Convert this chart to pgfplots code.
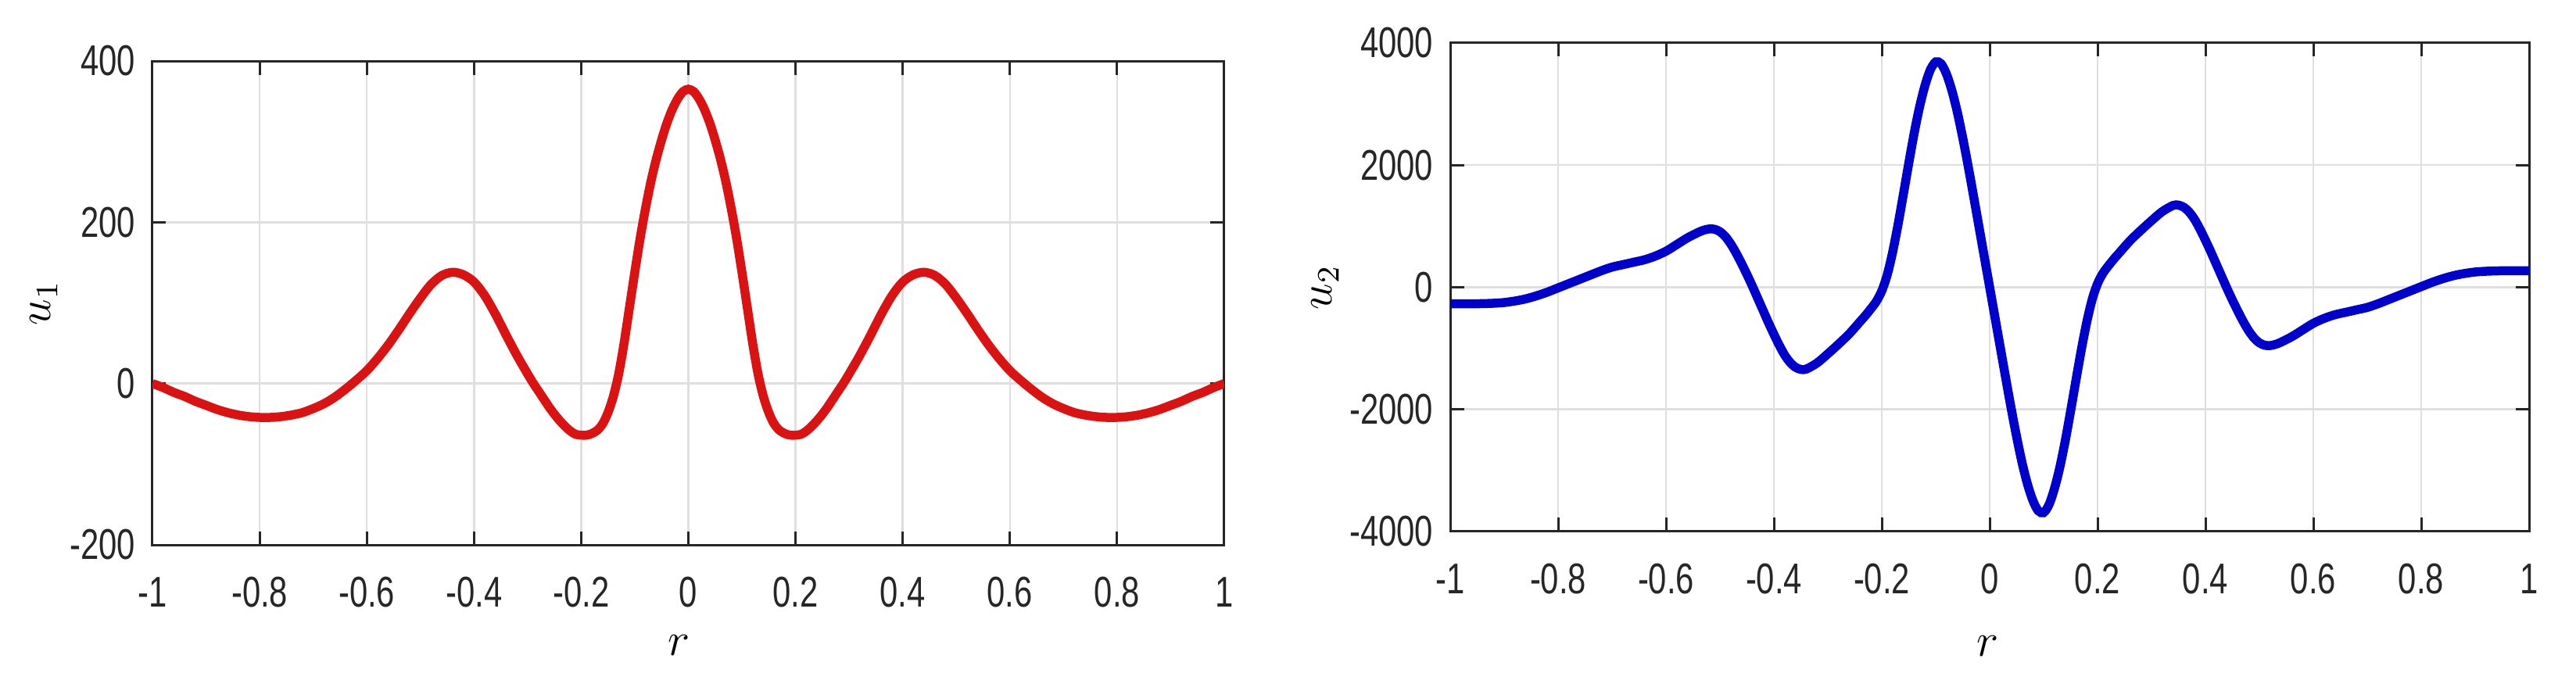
\documentclass[border=0pt]{standalone}
\usepackage{fontspec}
\setmainfont{Liberation Sans}
\usepackage{graphicx}
\usepackage{pgfplots}
\pgfplotsset{compat=1.18}
\definecolor{axc}{RGB}{38,38,38}
\definecolor{gridc}{RGB}{223,223,223}
\definecolor{cred}{RGB}{218,18,18}
\definecolor{cblue}{RGB}{0,0,205}
\newcommand\tl[1]{\scalebox{0.76}[1]{#1}}

\pgfplotstableread{
x y
-1.0 0
-0.98 -5
-0.96 -11
-0.94 -16
-0.92 -22
-0.90 -27
-0.88 -32
-0.86 -36
-0.84 -39
-0.82 -41
-0.80 -42
-0.78 -42
-0.76 -41
-0.74 -39
-0.72 -36
-0.70 -31
-0.68 -25
-0.66 -17
-0.64 -7
-0.62 4
-0.60 16
-0.58 31
-0.56 48
-0.54 67
-0.52 87
-0.50 106
-0.48 123
-0.46 134
-0.44 138
-0.42 135
-0.40 126
-0.38 109
-0.36 86
-0.34 60
-0.32 35
-0.30 12
-0.29 1
-0.28 -9
-0.27 -19
-0.26 -29
-0.25 -38
-0.24 -46
-0.23 -53
-0.22 -59
-0.21 -63
-0.20 -64
-0.19 -64
-0.18 -62
-0.17 -58
-0.16 -50
-0.15 -36
-0.14 -16
-0.13 12
-0.12 50
-0.11 94
-0.10 138
-0.09 180
-0.08 217
-0.07 250
-0.06 278
-0.05 302
-0.04 323
-0.03 340
-0.02 353
-0.01 362
0 365
0.01 362
0.02 353
0.03 340
0.04 323
0.05 302
0.06 278
0.07 250
0.08 217
0.09 180
0.10 138
0.11 94
0.12 50
0.13 12
0.14 -16
0.15 -36
0.16 -50
0.17 -58
0.18 -62
0.19 -64
0.20 -64
0.21 -63
0.22 -59
0.23 -53
0.24 -46
0.25 -38
0.26 -29
0.27 -19
0.28 -9
0.29 1
0.30 12
0.32 35
0.34 60
0.36 86
0.38 109
0.40 126
0.42 135
0.44 138
0.46 134
0.48 123
0.50 106
0.52 87
0.54 67
0.56 48
0.58 31
0.60 16
0.62 4
0.64 -7
0.66 -17
0.68 -25
0.70 -31
0.72 -36
0.74 -39
0.76 -41
0.78 -42
0.80 -42
0.82 -41
0.84 -39
0.86 -36
0.88 -32
0.90 -27
0.92 -22
0.94 -16
0.96 -11
0.98 -5
1.0 0
}\ua

\pgfplotstableread{
x y
-1.0 -270
-0.96 -270
-0.94 -268
-0.92 -262
-0.90 -250
-0.88 -225
-0.86 -190
-0.84 -140
-0.82 -80
-0.80 -10
-0.78 60
-0.76 130
-0.74 200
-0.72 270
-0.70 330
-0.68 370
-0.66 410
-0.64 450
-0.62 510
-0.60 590
-0.58 700
-0.56 810
-0.54 900
-0.53 935
-0.52 955
-0.51 950
-0.50 910
-0.49 830
-0.48 710
-0.47 560
-0.46 390
-0.45 210
-0.44 20
-0.43 -180
-0.42 -380
-0.41 -580
-0.40 -770
-0.39 -950
-0.38 -1110
-0.37 -1230
-0.36 -1310
-0.35 -1345
-0.34 -1340
-0.32 -1240
-0.30 -1090
-0.28 -930
-0.26 -760
-0.24 -560
-0.23 -460
-0.22 -350
-0.21 -230
-0.20 -60
-0.19 200
-0.18 570
-0.17 1020
-0.16 1520
-0.15 2030
-0.14 2520
-0.13 2950
-0.12 3300
-0.11 3560
-0.10 3690
-0.09 3660
-0.08 3490
-0.07 3220
-0.06 2870
-0.05 2450
-0.04 1990
-0.03 1500
-0.02 1000
-0.01 500
0 0
0.01 -500
0.02 -1000
0.03 -1500
0.04 -1990
0.05 -2450
0.06 -2870
0.07 -3220
0.08 -3490
0.09 -3660
0.10 -3690
0.11 -3560
0.12 -3300
0.13 -2950
0.14 -2520
0.15 -2030
0.16 -1520
0.17 -1020
0.18 -570
0.19 -200
0.20 60
0.21 230
0.22 350
0.23 460
0.24 560
0.26 760
0.28 930
0.30 1090
0.32 1240
0.34 1340
0.35 1345
0.36 1310
0.37 1230
0.38 1110
0.39 950
0.40 770
0.41 580
0.42 380
0.43 180
0.44 -20
0.45 -210
0.46 -390
0.47 -560
0.48 -710
0.49 -830
0.50 -910
0.51 -950
0.52 -955
0.53 -935
0.54 -900
0.56 -810
0.58 -700
0.60 -590
0.62 -510
0.64 -450
0.66 -410
0.68 -370
0.70 -330
0.72 -270
0.74 -200
0.76 -130
0.78 -60
0.80 10
0.82 80
0.84 140
0.86 190
0.88 225
0.90 250
0.92 262
0.94 268
0.96 270
1.0 270
}\ub

\pgfplotsset{mystyle/.style={
  scale only axis, anchor=south west,
  xmin=-1, xmax=1,
  xtick={-1,-0.8,-0.6,-0.4,-0.2,0,0.2,0.4,0.6,0.8,1},
  xticklabels={\tl{-1},\tl{-0.8},\tl{-0.6},\tl{-0.4},\tl{-0.2},\tl{0},\tl{0.2},\tl{0.4},\tl{0.6},\tl{0.8},\tl{1}},
  grid=major, major grid style={gridc, line width=0.5pt},
  axis line style={axc, line width=0.6pt},
  major tick style={axc, line width=0.6pt}, major tick length=3.5pt,
  tick label style={font=\fontsize{11}{13}\selectfont, text=axc},
  xticklabel style={anchor=center, yshift=-12.2pt},
  yticklabel style={anchor=east, inner sep=0pt, xshift=-4.2pt},
  label style={font=\fontsize{12}{14}\selectfont},
}}

\begin{document}
\begin{tikzpicture}
\path (0,0) rectangle (659pt,176.8pt);
\begin{axis}[mystyle,
  at={(39pt,37.4pt)}, width=274.2pt, height=123.8pt,
  ymin=-200, ymax=400,
  ytick={-200,0,200,400},
  yticklabels={\tl{-200},\tl{0},\tl{200},\tl{400}},
  xlabel={$r$}, ylabel={$u_1$},
  xlabel style={at={(axis description cs:0.491,-0.208)}, anchor=center},
  ylabel style={at={(axis description cs:-0.1014,0.5)}, anchor=center},
]
\addplot[cred, line width=2.3pt, smooth] table {\ua};
\end{axis}
\begin{axis}[mystyle,
  at={(371pt,40.8pt)}, width=276pt, height=125pt,
  ymin=-4000, ymax=4000,
  ytick={-4000,-2000,0,2000,4000},
  yticklabels={\tl{-4000},\tl{-2000},\tl{0},\tl{2000},\tl{4000}},
  xlabel={$r$}, ylabel={$u_2$},
  xlabel style={at={(axis description cs:0.498,-0.234)}, anchor=center},
  ylabel style={at={(axis description cs:-0.116,0.5)}, anchor=center},
]
\addplot[cblue, line width=2.3pt, smooth] table {\ub};
\end{axis}
\end{tikzpicture}
\end{document}
